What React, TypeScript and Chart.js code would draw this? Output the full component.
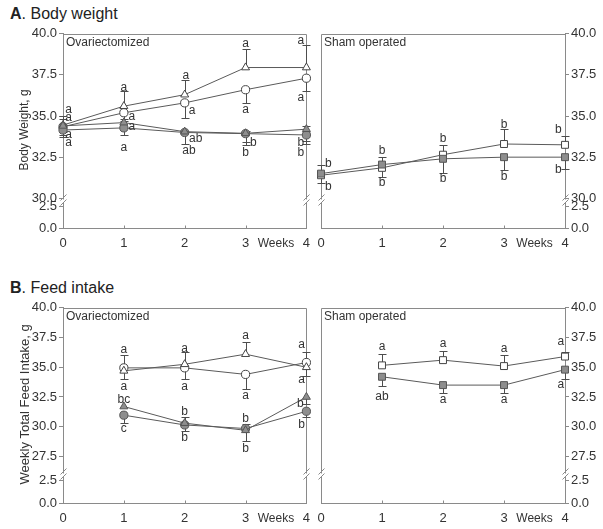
import React, { useEffect, useRef } from 'react';
import { Chart, registerables } from 'chart.js';

Chart.register(...registerables);

const FONT = '"Liberation Sans", Arial, Helvetica, sans-serif';
const AXIS = '#8a8a8a';
const INK = '#333333';
const GRAY_FILL = '#8e8e8e';

Chart.defaults.font.family = FONT;
Chart.defaults.color = INK;

type N = number | null;
type Kind = 'openTri' | 'openCir' | 'grayTri' | 'grayCir' | 'openSq' | 'graySq';
type Letter = [number, number, string];

// ---------- shared axis data ----------
const WEEKS = [0, 1, 2, 3, 4];
const X_TICKS = [0, 1, 2, 3, 3.5, 4];
const WEEKS_LABEL = 'Weeks';
const INNER_X_TICKS = [1, 2, 3];

const BW_UPPER_RANGE: [number, number] = [29.85, 40];
const BW_LOWER_RANGE: [number, number] = [0, 3.1];
const BW_WEIGHTS: [number, number] = [337, 55];
const BW_UPPER_TICKS = [30, 32.5, 35, 37.5, 40];
const LOWER_TICKS = [0, 2.5];

const FI_UPPER_RANGE: [number, number] = [25.92, 40];
const FI_LOWER_RANGE: [number, number] = [0, 3.04];
const FI_WEIGHTS: [number, number] = [169, 28];
const FI_UPPER_TICKS = [27.5, 30, 32.5, 35, 37.5, 40];

// ---------- A. Body weight, Ovariectomized ----------
const BW_OVX_OPEN_TRI: N[] = [34.45, 35.6, 36.3, 37.95, 37.95];
const BW_OVX_OPEN_TRI_HI: N[] = [35.0, 36.5, 37.2, 39.1, 39.3];
const BW_OVX_OPEN_CIR: N[] = [34.35, 35.2, 35.8, 36.6, 37.3];
const BW_OVX_OPEN_CIR_LO: N[] = [33.85, 34.7, 34.9, 35.8, 36.5];
const BW_OVX_GRAY_TRI: N[] = [34.4, 34.6, 34.05, 33.95, 34.2];
const BW_OVX_GRAY_TRI_HI: N[] = [34.8, 34.8, null, 34.1, 34.4];
const BW_OVX_GRAY_TRI_LO: N[] = [null, null, null, 33.45, 33.5];
const BW_OVX_GRAY_CIR: N[] = [34.15, 34.28, 34.0, 33.93, 33.85];
const BW_OVX_GRAY_CIR_LO: N[] = [33.7, 33.85, 33.3, 33.25, 33.3];
const BW_OVX_LETTERS: Letter[] = [
  [0.09, 35.4, 'a'], [0.09, 34.93, 'a'], [0.09, 33.84, 'a'], [0.09, 33.4, 'a'],
  [1, 36.75, 'a'], [1.13, 34.95, 'a'], [1.13, 34.35, 'a'], [1, 33.1, 'a'],
  [2.02, 37.45, 'a'], [2.12, 35.3, 'a'], [2.18, 33.6, 'ab'], [2.07, 32.9, 'ab'],
  [3, 39.4, 'a'], [3, 35.4, 'a'], [3.13, 33.4, 'b'], [3, 32.8, 'b'],
  [3.91, 39.6, 'a'], [3.91, 36.1, 'a'], [3.91, 33.4, 'b'], [3.91, 32.75, 'b'],
];

// ---------- A. Body weight, Sham operated ----------
const BW_SHAM_OPEN_SQ: N[] = [31.4, 31.85, 32.65, 33.3, 33.25];
const BW_SHAM_OPEN_SQ_HI: N[] = [32.0, 32.5, 33.25, 34.2, 33.8];
const BW_SHAM_GRAY_SQ: N[] = [31.5, 32.05, 32.4, 32.5, 32.5];
const BW_SHAM_GRAY_SQ_LO: N[] = [30.9, 31.3, 31.55, 31.7, 31.8];
const BW_SHAM_LETTERS: Letter[] = [
  [0.12, 32.1, 'b'], [0.12, 30.7, 'b'],
  [1, 32.9, 'b'], [1, 30.95, 'b'],
  [2, 33.65, 'b'], [2, 31.2, 'b'],
  [3, 34.5, 'b'], [3, 31.33, 'b'],
  [3.89, 34.2, 'b'], [3.89, 31.75, 'b'],
];

// ---------- B. Feed intake, Ovariectomized ----------
const FI_OVX_OPEN_TRI: N[] = [null, 34.7, 35.25, 36.1, 35.0];
const FI_OVX_OPEN_TRI_HI: N[] = [null, 36.0, 36.25, 37.1, null];
const FI_OVX_OPEN_TRI_LO: N[] = [null, null, null, null, 34.25];
const FI_OVX_OPEN_CIR: N[] = [null, 34.95, 34.95, 34.4, 35.4];
const FI_OVX_OPEN_CIR_HI: N[] = [null, null, null, null, 36.3];
const FI_OVX_OPEN_CIR_LO: N[] = [null, 34.0, 34.0, 33.15, null];
const FI_OVX_GRAY_TRI: N[] = [null, 31.7, 30.3, 29.7, 32.5];
const FI_OVX_GRAY_TRI_HI: N[] = [null, null, 30.8, null, null];
const FI_OVX_GRAY_TRI_LO: N[] = [null, null, null, 28.8, 31.9];
const FI_OVX_GRAY_CIR: N[] = [null, 30.97, 30.15, 29.85, 31.3];
const FI_OVX_GRAY_CIR_HI: N[] = [null, null, null, 30.2, null];
const FI_OVX_GRAY_CIR_LO: N[] = [null, 30.35, 29.6, null, 30.8];
const FI_OVX_LETTERS: Letter[] = [
  [1, 36.47, 'a'], [1, 33.4, 'a'], [1, 32.3, 'bc'], [1, 29.86, 'c'],
  [2, 36.6, 'a'], [2, 33.4, 'a'], [2, 31.27, 'b'], [2, 29.1, 'b'],
  [3, 37.67, 'a'], [3, 32.6, 'a'], [3, 30.7, 'b'], [3, 28.14, 'b'],
  [3.92, 36.9, 'a'], [3.92, 33.97, 'a'], [3.9, 31.9, 'b'], [3.92, 30.2, 'b'],
];

// ---------- B. Feed intake, Sham operated ----------
const FI_SHAM_OPEN_SQ: N[] = [null, 35.16, 35.6, 35.1, 35.9];
const FI_SHAM_OPEN_SQ_HI: N[] = [null, 36.1, 36.4, 36.0, 36.3];
const FI_SHAM_GRAY_SQ: N[] = [null, 34.2, 33.5, 33.5, 34.8];
const FI_SHAM_GRAY_SQ_LO: N[] = [null, 33.4, 32.8, 32.8, 34.0];
const FI_SHAM_LETTERS: Letter[] = [
  [1, 36.75, 'a'], [1, 32.5, 'ab'],
  [2, 36.95, 'a'], [2, 32.25, 'a'],
  [3, 36.56, 'a'], [3, 32.25, 'a'],
  [3.93, 37.17, 'a'], [3.93, 33.5, 'a'],
];

interface SeriesSpec { kind: Kind; values: N[]; hi?: N[]; lo?: N[] }
interface PanelSpec {
  title: string;
  side: 'left' | 'right';
  yTitle?: string;
  yTitleSize: number;
  upper: [number, number];
  lower: [number, number];
  upperTicks: number[];
  weights: [number, number];
  series: SeriesSpec[];
  letters: Letter[];
}

const PANEL_BW_OVX: PanelSpec = {
  title: 'Ovariectomized', side: 'left', yTitle: 'Body Weight, g', yTitleSize: 12,
  upper: BW_UPPER_RANGE, lower: BW_LOWER_RANGE, upperTicks: BW_UPPER_TICKS, weights: BW_WEIGHTS,
  series: [
    { kind: 'openTri', values: BW_OVX_OPEN_TRI, hi: BW_OVX_OPEN_TRI_HI },
    { kind: 'openCir', values: BW_OVX_OPEN_CIR, lo: BW_OVX_OPEN_CIR_LO },
    { kind: 'grayTri', values: BW_OVX_GRAY_TRI, hi: BW_OVX_GRAY_TRI_HI, lo: BW_OVX_GRAY_TRI_LO },
    { kind: 'grayCir', values: BW_OVX_GRAY_CIR, lo: BW_OVX_GRAY_CIR_LO },
  ],
  letters: BW_OVX_LETTERS,
};
const PANEL_BW_SHAM: PanelSpec = {
  title: 'Sham operated', side: 'right', yTitleSize: 12,
  upper: BW_UPPER_RANGE, lower: BW_LOWER_RANGE, upperTicks: BW_UPPER_TICKS, weights: BW_WEIGHTS,
  series: [
    { kind: 'openSq', values: BW_SHAM_OPEN_SQ, hi: BW_SHAM_OPEN_SQ_HI },
    { kind: 'graySq', values: BW_SHAM_GRAY_SQ, lo: BW_SHAM_GRAY_SQ_LO },
  ],
  letters: BW_SHAM_LETTERS,
};
const PANEL_FI_OVX: PanelSpec = {
  title: 'Ovariectomized', side: 'left', yTitle: 'Weekly Total Feed Intake, g', yTitleSize: 13,
  upper: FI_UPPER_RANGE, lower: FI_LOWER_RANGE, upperTicks: FI_UPPER_TICKS, weights: FI_WEIGHTS,
  series: [
    { kind: 'openTri', values: FI_OVX_OPEN_TRI, hi: FI_OVX_OPEN_TRI_HI, lo: FI_OVX_OPEN_TRI_LO },
    { kind: 'openCir', values: FI_OVX_OPEN_CIR, hi: FI_OVX_OPEN_CIR_HI, lo: FI_OVX_OPEN_CIR_LO },
    { kind: 'grayTri', values: FI_OVX_GRAY_TRI, hi: FI_OVX_GRAY_TRI_HI, lo: FI_OVX_GRAY_TRI_LO },
    { kind: 'grayCir', values: FI_OVX_GRAY_CIR, hi: FI_OVX_GRAY_CIR_HI, lo: FI_OVX_GRAY_CIR_LO },
  ],
  letters: FI_OVX_LETTERS,
};
const PANEL_FI_SHAM: PanelSpec = {
  title: 'Sham operated', side: 'right', yTitleSize: 13,
  upper: FI_UPPER_RANGE, lower: FI_LOWER_RANGE, upperTicks: FI_UPPER_TICKS, weights: FI_WEIGHTS,
  series: [
    { kind: 'openSq', values: FI_SHAM_OPEN_SQ, hi: FI_SHAM_OPEN_SQ_HI },
    { kind: 'graySq', values: FI_SHAM_GRAY_SQ, lo: FI_SHAM_GRAY_SQ_LO },
  ],
  letters: FI_SHAM_LETTERS,
};

function styleFor(kind: Kind) {
  const gray = kind.startsWith('gray');
  const pointStyle = kind.endsWith('Tri') ? 'triangle' : kind.endsWith('Cir') ? 'circle' : 'rect';
  const radius = pointStyle === 'rect' ? 4.9 : pointStyle === 'triangle' ? 4.6 : 4.1;
  return {
    pointStyle,
    pointRadius: radius,
    pointHoverRadius: radius,
    pointBackgroundColor: gray ? GRAY_FILL : '#ffffff',
    pointBorderColor: gray ? '#555555' : '#444444',
    pointBorderWidth: 1,
    borderColor: '#5a5a5a',
    borderWidth: 1,
    backgroundColor: gray ? GRAY_FILL : '#ffffff',
    fill: false,
    tension: 0,
    order: gray ? 0 : 1,
  };
}

function breakMark(ctx: CanvasRenderingContext2D, x: number, y: number) {
  ctx.save();
  ctx.strokeStyle = '#ffffff';
  ctx.lineWidth = 3;
  ctx.beginPath();
  ctx.moveTo(x, y - 1.5);
  ctx.lineTo(x, y + 1.5);
  ctx.stroke();
  ctx.strokeStyle = AXIS;
  ctx.lineWidth = 1;
  ctx.beginPath();
  ctx.moveTo(x - 3, y - 0.5);
  ctx.lineTo(x + 3, y - 6.5);
  ctx.moveTo(x - 3, y + 4.5);
  ctx.lineTo(x + 3, y - 1.5);
  ctx.stroke();
  ctx.restore();
}

function decorPlugin(p: PanelSpec) {
  return {
    id: 'decor',
    beforeDatasetsDraw(chart: any) {
      const ctx: CanvasRenderingContext2D = chart.ctx;
      const area = chart.chartArea;
      const xs = chart.scales.x;
      const ys = chart.scales.y;
      const top = Math.round(area.top) + 0.5;
      const left = Math.round(area.left) + 0.5;
      const right = Math.round(area.right) + 0.5;
      const bottom = Math.round(area.bottom) + 0.5;
      ctx.save();
      ctx.strokeStyle = AXIS;
      ctx.lineWidth = 1;
      ctx.beginPath();
      ctx.moveTo(left, top);
      ctx.lineTo(right, top);
      const farX = p.side === 'left' ? right : left;
      ctx.moveTo(farX, top);
      ctx.lineTo(farX, bottom);
      INNER_X_TICKS.forEach((w) => {
        const x = Math.round(xs.getPixelForValue(w)) + 0.5;
        ctx.moveTo(x, bottom);
        ctx.lineTo(x, bottom - 3);
      });
      ctx.stroke();
      ctx.restore();
      const by = Math.round(ys.bottom);
      breakMark(ctx, left, by);
      breakMark(ctx, right, by);

      // error bars
      ctx.save();
      ctx.strokeStyle = '#4d4d4d';
      ctx.lineWidth = 1;
      p.series.forEach((s) => {
        s.values.forEach((v, i) => {
          if (v == null) return;
          const x = Math.round(xs.getPixelForValue(WEEKS[i])) + 0.5;
          const y0 = ys.getPixelForValue(v);
          [s.hi ? s.hi[i] : null, s.lo ? s.lo[i] : null].forEach((e) => {
            if (e == null) return;
            const y1 = Math.round(ys.getPixelForValue(e)) + 0.5;
            ctx.beginPath();
            ctx.moveTo(x, y0);
            ctx.lineTo(x, y1);
            ctx.moveTo(x - 4, y1);
            ctx.lineTo(x + 4, y1);
            ctx.stroke();
          });
        });
      });
      ctx.restore();
    },
    afterDatasetsDraw(chart: any) {
      const ctx: CanvasRenderingContext2D = chart.ctx;
      const area = chart.chartArea;
      const xs = chart.scales.x;
      const ys = chart.scales.y;
      ctx.save();
      ctx.fillStyle = INK;
      ctx.font = `12px ${FONT}`;
      ctx.textAlign = 'center';
      ctx.textBaseline = 'middle';
      p.letters.forEach(([lx, ly, t]) => {
        ctx.fillText(t, xs.getPixelForValue(lx), ys.getPixelForValue(ly));
      });
      ctx.textAlign = 'left';
      ctx.fillText(p.title, area.left + 3, area.top + 9);
      if (p.yTitle) {
        ctx.save();
        ctx.font = `${p.yTitleSize}px ${FONT}`;
        ctx.translate(25, (area.top + area.bottom) / 2 - 1);
        ctx.rotate(-Math.PI / 2);
        ctx.textAlign = 'center';
        ctx.fillText(p.yTitle, 0, 0);
        ctx.restore();
      }
      ctx.restore();
    },
  };
}

function yScale(p: PanelSpec, range: [number, number], ticks: number[], weight: number) {
  return {
    type: 'linear',
    position: p.side,
    stack: 'ybreak',
    stackWeight: weight,
    min: range[0],
    max: range[1],
    afterBuildTicks: (s: any) => {
      s.ticks = ticks.map((v) => ({ value: v }));
    },
    afterFit: (s: any) => {
      s.width = p.side === 'left' ? 63 : 38;
    },
    ticks: {
      autoSkip: false,
      padding: 2,
      color: INK,
      font: { size: 13, family: FONT },
      callback: (v: any) => Number(v).toFixed(1),
    },
    grid: { drawOnChartArea: false, drawTicks: true, tickLength: 4, color: AXIS, tickColor: AXIS },
    border: { display: true, color: AXIS, width: 1 },
  };
}

function buildConfig(p: PanelSpec, pad: any): any {
  const xScale = {
    type: 'linear',
    min: 0,
    max: 4,
    afterBuildTicks: (s: any) => {
      s.ticks = X_TICKS.map((v) => ({ value: v }));
    },
    afterFit: (s: any) => {
      s.height = 24;
    },
    ticks: {
      autoSkip: false,
      maxRotation: 0,
      padding: 0,
      color: INK,
      font: (c: any) => ({ size: c.tick && c.tick.value === 3.5 ? 12 : 13, family: FONT }),
      callback: (v: any) => (v === 3.5 ? WEEKS_LABEL : String(v)),
    },
    grid: { display: false },
    border: { display: true, color: AXIS, width: 1 },
  };
  const upper = yScale(p, p.upper, p.upperTicks, p.weights[0]);
  const lower = yScale(p, p.lower, LOWER_TICKS, p.weights[1]);
  // left-side boxes are stacked in reverse definition order
  const scales = p.side === 'left'
    ? { x: xScale, y2: lower, y: upper }
    : { x: xScale, y: upper, y2: lower };
  return {
    type: 'line',
    data: {
      datasets: p.series.map((s) => ({
        data: WEEKS.map((w, i) => ({ x: w, y: s.values[i] })),
        yAxisID: 'y',
        clip: false,
        spanGaps: false,
        ...styleFor(s.kind),
      })),
    },
    options: {
      responsive: false,
      animation: false,
      devicePixelRatio: 1,
      events: [],
      layout: { padding: pad },
      plugins: { legend: { display: false }, tooltip: { enabled: false } },
      scales,
    },
    plugins: [decorPlugin(p)],
  };
}

function Panel(props: { spec: PanelSpec; left: number; top: number; width: number; height: number; pad: any }) {
  const ref = useRef<HTMLCanvasElement>(null);
  useEffect(() => {
    const chart = new Chart(ref.current as HTMLCanvasElement, buildConfig(props.spec, props.pad));
    return () => chart.destroy();
  }, []);
  return (
    <canvas
      ref={ref}
      width={props.width}
      height={props.height}
      style={{ position: 'absolute', left: props.left, top: props.top, width: props.width, height: props.height }}
    />
  );
}

const LEFT_PAD = { top: 8, left: 0, right: 4, bottom: 0 };
const RIGHT_PAD = { top: 8, left: 9, right: 0, bottom: 0 };

export default function App() {
  const titleStyle: React.CSSProperties = {
    position: 'absolute',
    left: 10,
    font: `16px ${FONT}`,
    color: '#222',
    whiteSpace: 'nowrap',
    lineHeight: '18px',
  };
  return (
    <div style={{ position: 'absolute', left: 0, top: 0, width: 603, height: 529, background: '#fff', overflow: 'hidden' }}>
      <div style={{ ...titleStyle, top: 5 }}><b>A</b>. Body weight</div>
      <div style={{ ...titleStyle, top: 279 }}><b>B</b>. Feed intake</div>
      <Panel spec={PANEL_BW_OVX} left={0} top={24} width={312} height={228} pad={LEFT_PAD} />
      <Panel spec={PANEL_BW_SHAM} left={312} top={24} width={291} height={228} pad={RIGHT_PAD} />
      <Panel spec={PANEL_FI_OVX} left={0} top={298} width={312} height={229} pad={LEFT_PAD} />
      <Panel spec={PANEL_FI_SHAM} left={312} top={298} width={291} height={229} pad={RIGHT_PAD} />
    </div>
  );
}
